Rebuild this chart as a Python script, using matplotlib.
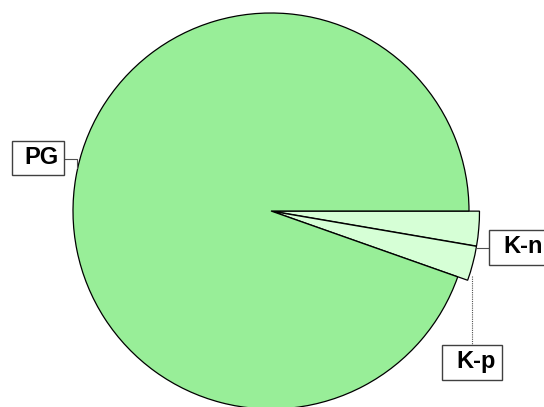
import matplotlib
matplotlib.use('Agg')
import matplotlib.pyplot as plt
from matplotlib.patches import Rectangle

# slice shares (percent)
labels = ['K-n', 'K-p', 'PG']
values = [2.7, 2.7, 94.6]
colors = ['#d6ffd6', '#d6ffd6', '#98ee98']

# pixel geometry of the reference: centre (271, 211), radius 198
W, H = 544, 407
cx, cy, R = 271, 211, 198.0

def px(x, y):
    # pixel position -> data units (radius 1)
    return (x - cx) / R, (cy - y) / R

fig = plt.figure(figsize=(W / 100, H / 100), dpi=100)
ax = fig.add_axes([0, 0, 1, 1])

wedges, _ = ax.pie(values, colors=colors, startangle=0, counterclock=False,
                   explode=[0.008, 0.008, 0],
                   wedgeprops=dict(edgecolor='black', linewidth=0.9))
# the two small slices stick out a little past the big one
for w in wedges[:2]:
    w.set_radius(1.045)

ax.set_aspect('auto')
x0, y1 = px(0, 0)
x1, y0 = px(W, H)
ax.set_xlim(x0, x1)
ax.set_ylim(y0, y1)
ax.axis('off')

font = dict(family='Liberation Sans', fontsize=17, fontweight='bold',
            ha='center', va='baseline')

# label boxes (left, top, right, bottom in px) and leader lines
boxes = {'PG': (12, 141, 64, 175), 'K-n': (489, 230, 549, 265), 'K-p': (442, 345, 502, 380)}
leaders = {
    'PG': [(64, 159), (77, 159), (77, 168)],
    'K-n': [(477, 248), (489, 248)],
    'K-p': [(471.5, 276), (471.5, 345)],
}
for name in labels:
    pts = [px(*p) for p in leaders[name]]
    ax.plot([p[0] for p in pts], [p[1] for p in pts], color='#505050',
            linewidth=0.8, linestyle=(0, (1, 1)) if name == 'K-p' else '-', zorder=1)
    l, t, r, b = boxes[name]
    bl = px(l, b)
    tr = px(r, t)
    ax.add_patch(Rectangle(bl, tr[0] - bl[0], tr[1] - bl[1], facecolor='white',
                           edgecolor='#404040', linewidth=1.0, zorder=4, clip_on=False))
    tx, ty = px((l + r) / 2 + 4, t + 23)
    ax.text(tx, ty, name, zorder=5, **font)

fig.savefig('out.png', dpi=100)
